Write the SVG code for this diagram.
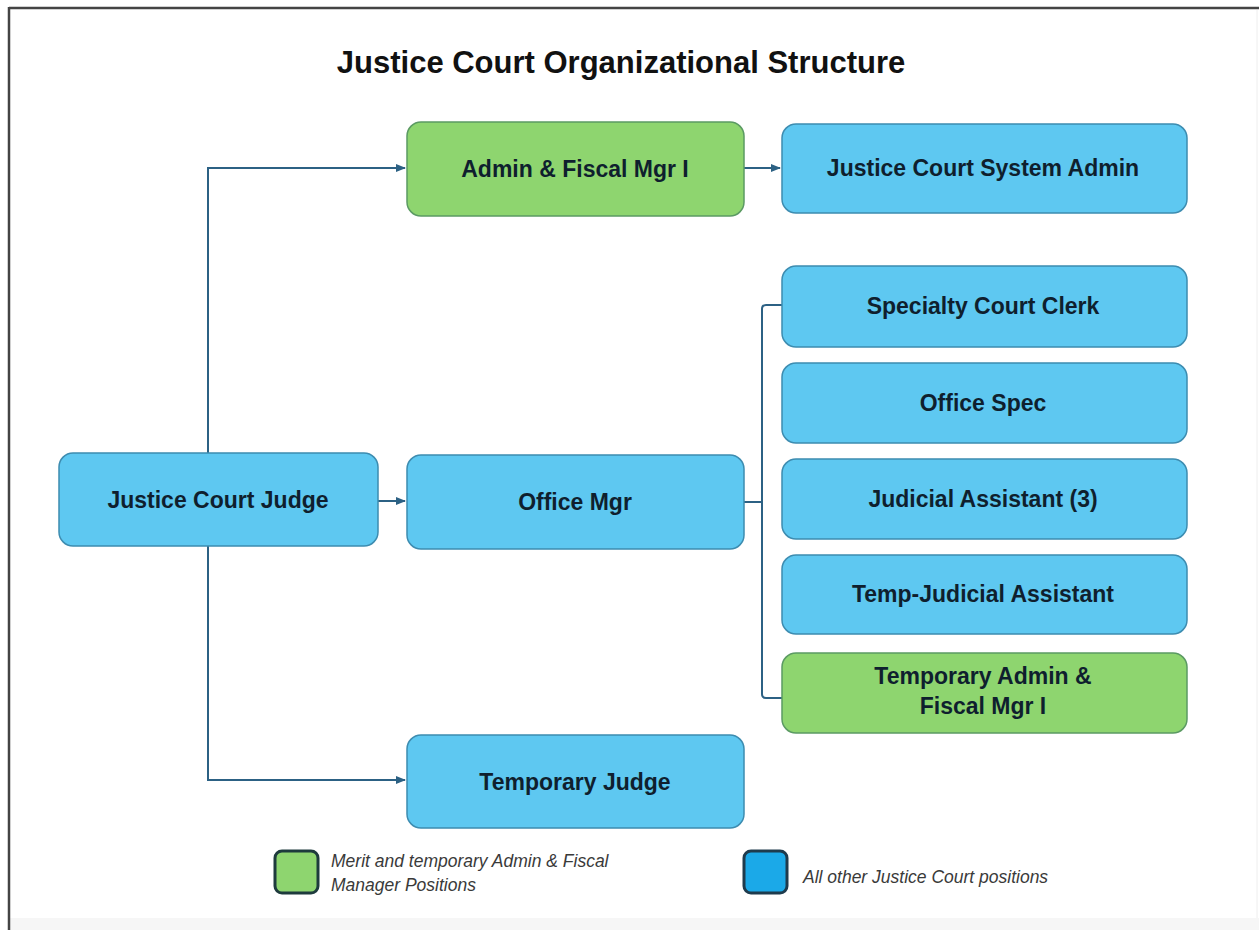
<svg xmlns="http://www.w3.org/2000/svg" width="1259" height="930" viewBox="0 0 1259 930">
<defs>
<style>
.blue{fill:#5ec8f1;stroke:#3d8cb0;stroke-width:1.5}
.green{fill:#8ed56f;stroke:#5b9a63;stroke-width:1.5}
.lbl{font-family:"Liberation Sans",Arial,sans-serif;font-weight:bold;font-size:23px;fill:#0f1f2e;text-anchor:middle}
.conn{fill:none;stroke:#2c6184;stroke-width:2}
.leg{font-family:"Liberation Sans",Arial,sans-serif;font-style:italic;font-size:17.5px;fill:#3a3a3a}
</style>
<marker id="arr" viewBox="0 0 10 10" refX="9" refY="5" markerWidth="5" markerHeight="5" orient="auto">
<path d="M0,1 L10,5 L0,9 z" fill="#2c6184"/>
</marker>
</defs>
<rect x="0" y="0" width="1259" height="930" fill="#ffffff"/>
<rect x="9" y="918" width="1250" height="12" fill="#f6f6f6"/>
<line x1="9" y1="8" x2="1259" y2="8" stroke="#444" stroke-width="2.5"/>
<line x1="9" y1="7" x2="9" y2="930" stroke="#444" stroke-width="2.5"/>
<line x1="1257" y1="10" x2="1257" y2="918" stroke="#eee" stroke-width="1"/>
<text x="621" y="73" font-family="Liberation Sans,Arial,sans-serif" font-weight="bold" font-size="31" fill="#111" text-anchor="middle">Justice Court Organizational Structure</text>
<g id="connectors">
<path class="conn" d="M208,453 V168 H405" marker-end="url(#arr)"/>
<path class="conn" d="M208,546 V780 H405" marker-end="url(#arr)"/>
<path class="conn" d="M378,501 H405" marker-end="url(#arr)"/>
<path class="conn" d="M744,168 H780" marker-end="url(#arr)"/>
<path class="conn" d="M744,502 H762"/>
<path class="conn" d="M782,305 H766 Q762,305 762,309 V694 Q762,698 766,698 H782"/>
</g>
<g id="n-judge"><rect class="blue" x="59" y="453" width="319" height="93" rx="14"/><text class="lbl" x="218" y="508">Justice Court Judge</text></g>
<g id="n-admin"><rect class="green" x="407" y="122" width="337" height="94" rx="14"/><text class="lbl" x="575" y="177">Admin &amp; Fiscal Mgr I</text></g>
<g id="n-sysadmin"><rect class="blue" x="782" y="124" width="405" height="89" rx="14"/><text class="lbl" x="983" y="176">Justice Court System Admin</text></g>
<g id="n-officemgr"><rect class="blue" x="407" y="455" width="337" height="94" rx="14"/><text class="lbl" x="575" y="510">Office Mgr</text></g>
<g id="n-tempjudge"><rect class="blue" x="407" y="735" width="337" height="93" rx="14"/><text class="lbl" x="575" y="790">Temporary Judge</text></g>
<g id="n-clerk"><rect class="blue" x="782" y="266" width="405" height="81" rx="14"/><text class="lbl" x="983" y="314">Specialty Court Clerk</text></g>
<g id="n-officespec"><rect class="blue" x="782" y="363" width="405" height="80" rx="14"/><text class="lbl" x="983" y="411">Office Spec</text></g>
<g id="n-judasst"><rect class="blue" x="782" y="459" width="405" height="80" rx="14"/><text class="lbl" x="983" y="507">Judicial Assistant (3)</text></g>
<g id="n-tempjudasst"><rect class="blue" x="782" y="555" width="405" height="79" rx="14"/><text class="lbl" x="983" y="602">Temp-Judicial Assistant</text></g>
<g id="n-tempadmin"><rect class="green" x="782" y="653" width="405" height="80" rx="14"/><text class="lbl" x="983" y="684">Temporary Admin &amp;</text><text class="lbl" x="983" y="714">Fiscal Mgr I</text></g>
<g id="legend">
<rect x="275" y="851" width="43" height="42" rx="7" fill="#8ed56f" stroke="#1e3b3d" stroke-width="3"/>
<text class="leg" x="331" y="867">Merit and temporary Admin &amp; Fiscal</text>
<text class="leg" x="331" y="891">Manager Positions</text>
<rect x="744" y="851" width="43" height="42" rx="7" fill="#1ba9e8" stroke="#1e3b4d" stroke-width="3"/>
<text class="leg" x="803" y="883">All other Justice Court positions</text>
</g>
</svg>
